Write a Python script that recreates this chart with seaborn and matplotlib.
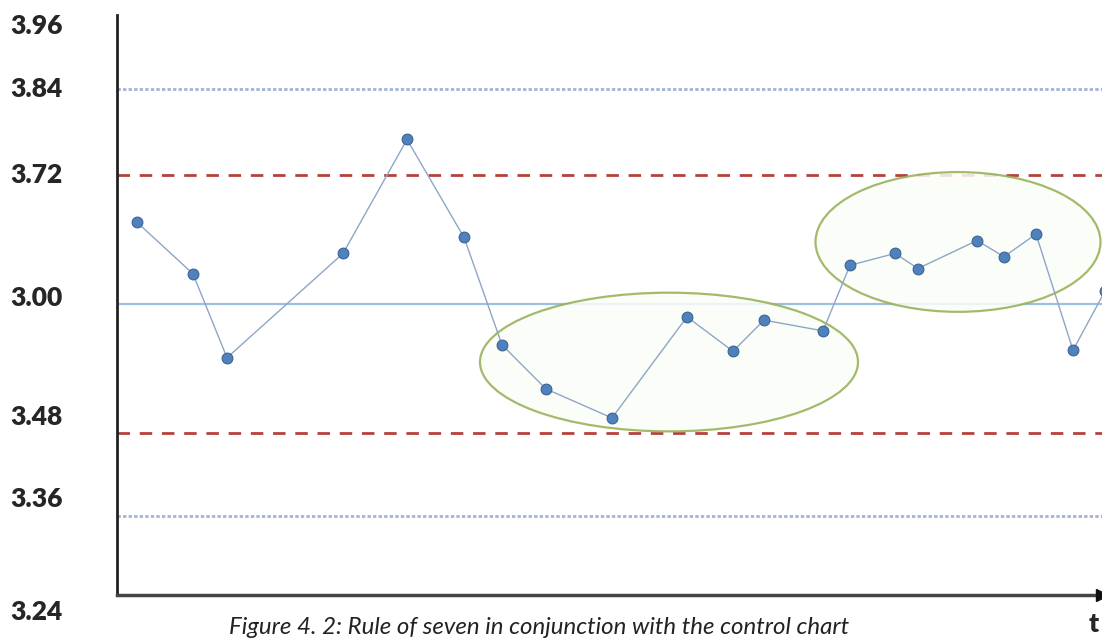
import numpy as np
import pandas as pd
import matplotlib
matplotlib.use("Agg")
import matplotlib.pyplot as plt
from matplotlib.patches import Ellipse
import seaborn as sns

# ---- data ----
t_values = [0.4, 1.52, 2.2, 4.52, 5.8, 6.94, 7.7, 8.58, 9.9, 11.4, 12.32, 12.94,
            14.12, 14.66, 15.56, 16.02, 17.2, 17.74, 18.38, 19.12, 19.76]
measurements = [3.676, 3.628, 3.550, 3.647, 3.753, 3.662, 3.562, 3.521, 3.494,
                3.588, 3.556, 3.585, 3.575, 3.636, 3.647, 3.633, 3.659, 3.644,
                3.665, 3.557, 3.612]
center_line = 3.60
control_limits = [3.72, 3.48]
outer_limits = [3.80, 3.403]
tick_positions = [3.860, 3.802, 3.722, 3.607, 3.497, 3.420, 3.315]
tick_labels = ["3.96", "3.84", "3.72", "3.00", "3.48", "3.36", "3.24"]
caption = "Figure 4. 2: Rule of seven in conjunction with the control chart"
x_label = "t"

df = pd.DataFrame({"t": t_values, "value": measurements})

sns.set_style("white")
plt.rcParams['font.family'] = ['Lato', 'DejaVu Sans']

W, H = 1102, 638
fig = plt.figure(figsize=(W / 100, H / 100), dpi=100)
ax = fig.add_axes([117 / W, (H - 625) / H, (W - 117) / W, (625 - 15) / H])

ylim = (3.3014, 3.8688)
axis_bottom = 3.3293
xlim = (0, 19.7)

# reference lines
for y in outer_limits:
    ax.axhline(y, color="#A3B3D6", lw=2.0, ls=(0, (1.2, 0.8)), zorder=1)
for y in control_limits:
    ax.axhline(y, color="#B5413F", lw=2.0, ls=(0, (4.5, 3.5)), zorder=1)
ax.axhline(center_line, color="#9CBFE3", lw=1.6, zorder=1)

# ellipses (rule of seven groups)
ell_specs = [((11.04, 3.546), 7.56, 0.129), ((16.82, 3.6577), 5.7, 0.130)]
for (c, w, h) in ell_specs:
    ax.add_patch(Ellipse(c, w, h, facecolor="#FBFDF8", edgecolor="#93AF52",
                         lw=1.6, alpha=0.85, zorder=2))

sns.lineplot(data=df, x="t", y="value", ax=ax, color="#8EA6C6", lw=1.0,
             zorder=3, sort=False)
sns.scatterplot(data=df, x="t", y="value", ax=ax, color="#4F81BD",
                edgecolor="#3A6494", linewidth=0.8, s=60, zorder=4,
                marker="o")

ax.set_xlim(*xlim)
ax.set_ylim(*ylim)
ax.set_xlabel("")
ax.set_ylabel("")
ax.set_xticks([])
ax.set_yticks(tick_positions)
ax.set_yticklabels(tick_labels, fontsize=19, fontweight="heavy")
ax.tick_params(axis="y", length=0, pad=39)

for s in ["top", "right"]:
    ax.spines[s].set_visible(False)
ax.spines["left"].set_bounds(axis_bottom, ylim[1])
ax.spines["left"].set_color("#222222")
ax.spines["left"].set_linewidth(2.0)
ax.spines["bottom"].set_position(("data", axis_bottom))
ax.spines["bottom"].set_color("#444444")
ax.spines["bottom"].set_linewidth(2.5)
ax.plot([1.0], [axis_bottom], marker=">", color="#111111", markersize=9,
        transform=ax.get_yaxis_transform(), clip_on=False, zorder=5)

fig.text(539 / W, 1 - 627 / H, caption, ha="center", va="center",
         fontsize=17.3, fontstyle="italic", color="#222222")
fig.text(1094 / W, 1 - 624 / H, x_label, ha="center", va="center",
         fontsize=19, fontweight="heavy")

fig.savefig("out.png", dpi=100)
